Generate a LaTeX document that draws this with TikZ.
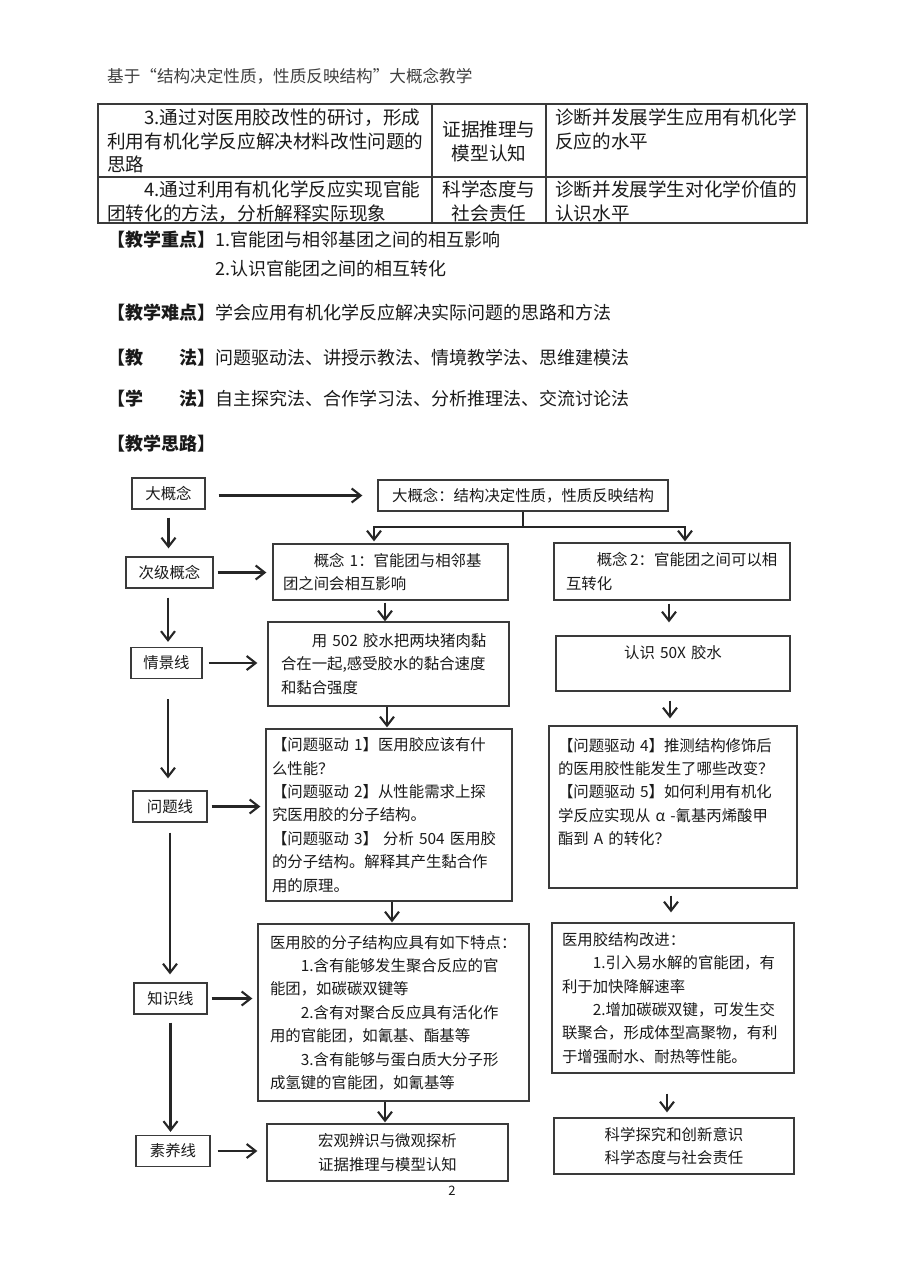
\documentclass[tikz,border=0pt]{standalone}
\usepackage{fontspec}
\setmainfont{Noto Sans CJK SC}
\usetikzlibrary{arrows.meta,calc}
\newcommand{\flowfont}{\fontsize{15.4}{23.4}\selectfont}
\newcommand{\tabfont}{\fontsize{18.6}{23.5}\selectfont}
\newcommand{\ptfont}{\fontsize{18}{22}\selectfont}
\definecolor{linec}{HTML}{3A3A3A}
\definecolor{txtc}{HTML}{1A1A1A}
\begin{document}
\begin{tikzpicture}[x=1pt,y=-1pt,
  box/.style={draw=linec, line width=1.3pt, inner ysep=0pt, font=\flowfont, text=txtc},
  lbl/.style={box, minimum height=31pt, inner xsep=0pt, align=center},
  para/.style={box, align=left},
  ctr/.style={box, align=center, inner xsep=0pt},
  arr/.style={draw=black!85, line width=2.1pt, -{Straight Barb[length=9pt,width=14pt]}},
  tcell/.style={anchor=base west, inner sep=0pt, align=left, font=\tabfont, text=txtc},
  tline/.style={draw=linec, line width=1.3pt},
  ptline/.style={anchor=base west, inner sep=0pt, font=\ptfont, text=txtc}]
\useasboundingbox (0,0) rectangle (900,1273);
\fill[white] (0,0) rectangle (900,1273);

% header
\node[anchor=base west, inner sep=0pt, font=\fontsize{16.6}{20}\selectfont, text=black!75] (hdr) at (107,83) {基于“结构决定性质，性质反映结构”大概念教学};

% table
\draw[tline] (98,104) rectangle (807,223);
\draw[tline] (432,104) -- (432,223);
\draw[tline] (546,104) -- (546,223);
\draw[tline] (98,177) -- (807,177);
\node[tcell, text width=322pt] (t11) at (107,125) {\hspace*{2em}3.通过对医用胶改性的研讨，形成\\利用有机化学反应解决材料改性问题的\\思路};
\node[tcell, anchor=base, align=center, text width=110pt] (t12) at (489,137) {证据推理与\\模型认知};
\node[tcell, text width=248pt] (t13) at (555,125) {诊断并发展学生应用有机化学\\反应的水平};
\node[tcell, text width=322pt] (t21) at (107,197) {\hspace*{2em}4.通过利用有机化学反应实现官能\\团转化的方法，分析解释实际现象};
\node[tcell, anchor=base, align=center, text width=110pt] (t22) at (489,197) {科学态度与\\社会责任};
\node[tcell, text width=248pt] (t23) at (555,197) {诊断并发展学生对化学价值的\\认识水平};

% teaching points
\node[ptline] (zd) at (107,247) {\textbf{【教学重点】}1.官能团与相邻基团之间的相互影响};
\node[ptline] (zd2) at (215,275) {2.认识官能团之间的相互转化};
\node[ptline] (nd) at (107,319) {\textbf{【教学难点】}学会应用有机化学反应解决实际问题的思路和方法};
\node[ptline] (jf) at (107,364) {\textbf{【教\hspace{2em}法】}问题驱动法、讲授示教法、情境教学法、思维建模法};
\node[ptline] (xf) at (107,405) {\textbf{【学\hspace{2em}法】}自主探究法、合作学习法、分析推理法、交流讨论法};
\node[ptline] (sl) at (107,450) {\textbf{【教学思路】}};

% left labels
\node[lbl, minimum width=73pt] (dgn) at (168.5,493.5) {大概念};
\node[lbl, minimum width=87pt] (cj) at (169.5,572.5) {次级概念};
\node[lbl, minimum width=71pt] (qj) at (166.5,663) {情景线};
\node[lbl, minimum width=74pt] (wt) at (170,806.5) {问题线};
\node[lbl, minimum width=73pt] (zs) at (170.5,998.5) {知识线};
\node[lbl, minimum width=74pt] (sy) at (173,1151) {素养线};

% big concept
\node[ctr, minimum width=290pt, minimum height=31pt, text width=290pt] (big) at (523,495.5) {大概念：结构决定性质，性质反映结构};

% middle column
\node[para, minimum height=56pt, inner xsep=10pt, text width=215pt] (c1) at (390.5,572) {\hspace*{2em}概念 1：官能团与相邻基\\团之间会相互影响};
\node[para, minimum height=84pt, inner xsep=13pt, text width=215pt] (s1) at (388.5,664) {\hspace*{2em}用 502 胶水把两块猪肉黏\\合在一起,感受胶水的黏合速度\\和黏合强度};
\node[para, minimum height=172pt, inner xsep=6pt, text width=234pt] (q1) at (389,815) {【问题驱动 1】医用胶应该有什\\么性能？\\【问题驱动 2】从性能需求上探\\究医用胶的分子结构。\\【问题驱动 3】 分析 504 医用胶\\的分子结构。解释其产生黏合作\\用的原理。};
\node[para, minimum height=177pt, inner xsep=12pt, text width=247pt] (k1) at (393.5,1012.5) {医用胶的分子结构应具有如下特点：\\\hspace*{2em}1.含有能够发生聚合反应的官\\能团，如碳碳双键等\\\hspace*{2em}2.含有对聚合反应具有活化作\\用的官能团，如氰基、酯基等\\\hspace*{2em}3.含有能够与蛋白质大分子形\\成氢键的官能团，如氰基等};
\node[ctr, minimum height=57pt, text width=241pt] (y1) at (387.5,1152.5) {宏观辨识与微观探析\\证据推理与模型认知};

% right column
\node[para, minimum height=57pt, inner xsep=12pt, text width=212pt] (c2) at (672,571.5) {\hspace*{2em}概念\,2：官能团之间可以相\\互转化};
\node[ctr, minimum height=55pt, text width=234pt] (s2) at (673,663.5) {认识 50X 胶水\\\mbox{}};
\node[para, minimum height=162pt, inner xsep=9pt, text width=230pt] (q2) at (673,807) {【问题驱动 4】推测结构修饰后\\的医用胶性能发生了哪些改变？\\【问题驱动 5】如何利用有机化\\学反应实现从 α -氰基丙烯酸甲\\酯到 A 的转化？\\[8pt]\mbox{}};
\node[para, minimum height=150pt, inner xsep=10pt, text width=222pt] (k2) at (673,998) {医用胶结构改进：\\\hspace*{2em}1.引入易水解的官能团，有\\利于加快降解速率\\\hspace*{2em}2.增加碳碳双键，可发生交\\联聚合，形成体型高聚物，有利\\于增强耐水、耐热等性能。};
\node[ctr, minimum height=56pt, text width=240pt] (y2) at (674,1146) {科学探究和创新意识\\科学态度与社会责任};

% page number
\node[anchor=base, inner sep=0pt, font=\fontsize{13}{15}\selectfont, text=txtc] (pg) at (452,1195) {2};

% left vertical arrows
\draw[arr, shorten <=8pt, shorten >=8pt] (dgn.south) -- (dgn.south |- cj.north);
\draw[arr, shorten <=9pt, shorten >=5pt] ([xshift=-1.5pt]cj.south) -- ([xshift=-1.5pt]cj.south |- qj.north);
\draw[arr, shorten <=20pt, shorten >=12pt] ([xshift=1.5pt]qj.south) -- ([xshift=1.5pt]qj.south |- wt.north);
\draw[arr, shorten <=10pt, shorten >=8pt] (wt.south) -- (wt.south |- zs.north);
\draw[arr, shorten <=8pt, shorten >=3pt] (zs.south) -- (zs.south |- sy.north);

% horizontal arrows
\draw[arr, shorten <=13pt, shorten >=15pt] (dgn.east |- big.west) -- (big.west);
\draw[arr, shorten <=4pt, shorten >=6pt] (cj.east) -- (cj.east -| c1.west);
\draw[arr, shorten <=6pt, shorten >=10pt] (qj.east) -- (qj.east -| s1.west);
\draw[arr, shorten <=4pt, shorten >=5pt] (wt.east) -- (wt.east -| q1.west);
\draw[arr, shorten <=4pt, shorten >=5pt] (zs.east) -- (zs.east -| k1.west);
\draw[arr, shorten <=7pt, shorten >=9pt] (sy.east) -- (sy.east -| y1.west);

% branch
\coordinate (bl) at (374,527);
\coordinate (br) at (685,527);
\draw[arr, shorten >=2pt] (big.south) -- (big.south |- bl) -| (bl |- c1.north);
\draw[arr, shorten >=1pt] (big.south |- bl) -| (br |- c2.north);

% middle arrows
\draw[arr, shorten <=2pt] ([xshift=-5.5pt]c1.south) -- ([xshift=-5.5pt]c1.south |- s1.north);
\draw[arr, shorten >=1pt] ([xshift=-1.5pt]s1.south) -- ([xshift=-1.5pt]s1.south |- q1.north);
\draw[arr, shorten >=1pt] ([xshift=3pt]q1.south) -- ([xshift=3pt]q1.south |- k1.north);
\draw[arr, shorten >=1pt] ([xshift=-8.5pt]k1.south) -- ([xshift=-8.5pt]k1.south |- y1.north);

% right arrows
\draw[arr, shorten <=3pt, shorten >=13pt] ([xshift=-3pt]c2.south) -- ([xshift=-3pt]c2.south |- s2.north);
\draw[arr, shorten <=9pt, shorten >=7pt] ([xshift=-3pt]s2.south) -- ([xshift=-3pt]s2.south |- q2.north);
\draw[arr, shorten <=7pt, shorten >=10pt] ([xshift=-2pt]q2.south) -- ([xshift=-2pt]q2.south |- k2.north);
\draw[arr, shorten <=20pt, shorten >=5pt] ([xshift=-6pt]k2.south) -- ([xshift=-6pt]k2.south |- y2.north);
\end{tikzpicture}
\end{document}
